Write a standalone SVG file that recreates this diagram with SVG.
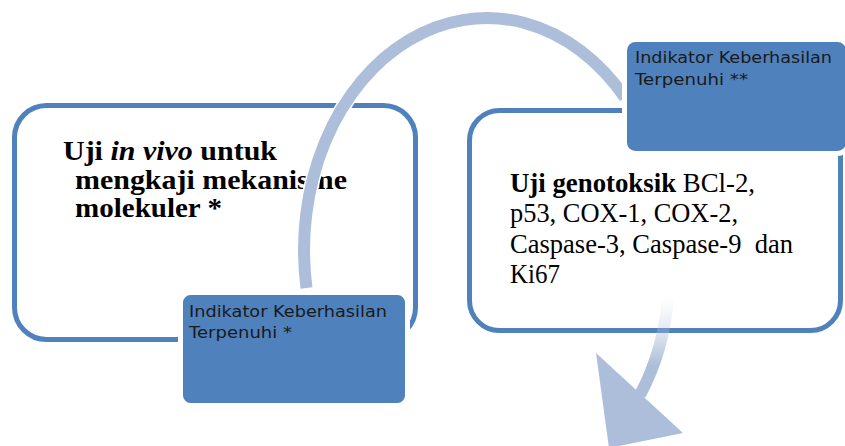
<svg xmlns="http://www.w3.org/2000/svg" width="845" height="446" viewBox="0 0 845 446">
<style>
.big{fill:#fff;stroke:#4f81bd;stroke-width:5}
.small{fill:#4f81bd;stroke:#fff;stroke-width:5}
.serif{font-family:"Liberation Serif","Times New Roman",serif;font-size:28px;fill:#000}
.serifr{font-family:"Liberation Serif","Times New Roman",serif;font-size:27px;fill:#000}
.sans{font-family:"DejaVu Sans","Open Sans",sans-serif;font-size:15px;fill:#1a1a1a}
.arc{fill:none;stroke:#adbedb;stroke-width:12;stroke-linecap:butt}
</style>
<defs>
<linearGradient id="fade" gradientUnits="userSpaceOnUse" x1="0" y1="298" x2="0" y2="365">
<stop offset="0" stop-color="#adbedb" stop-opacity="0"/>
<stop offset="0.45" stop-color="#adbedb" stop-opacity="0.3"/>
<stop offset="1" stop-color="#adbedb" stop-opacity="1"/>
</linearGradient>
</defs>
<rect width="845" height="446" fill="#fff"/>
<g id="node-left">
<rect class="big" x="14.5" y="105.5" width="401" height="234" rx="32"/>
<text class="serif" x="63" y="160" font-weight="bold" textLength="214" lengthAdjust="spacingAndGlyphs">Uji <tspan font-style="italic">in vivo</tspan> untuk</text>
<text class="serif" x="75" y="189" font-weight="bold" textLength="272" lengthAdjust="spacingAndGlyphs">mengkaji mekanisme</text>
<text class="serif" x="75" y="217" font-weight="bold" textLength="147" lengthAdjust="spacingAndGlyphs">molekuler *</text>
</g>
<g id="node-right">
<rect class="big" x="469.5" y="110.5" width="371" height="220" rx="30"/>
<text class="serifr" x="510" y="192" textLength="245" lengthAdjust="spacingAndGlyphs"><tspan font-weight="bold">Uji genotoksik</tspan> BCl-2,</text>
<text class="serifr" x="510" y="222" textLength="228" lengthAdjust="spacingAndGlyphs">p53, COX-1, COX-2,</text>
<text class="serifr" x="510" y="253" textLength="283" lengthAdjust="spacingAndGlyphs" xml:space="preserve">Caspase-3, Caspase-9  dan</text>
<text class="serifr" x="510" y="283" textLength="50" lengthAdjust="spacingAndGlyphs">Ki67</text>
</g>
<g id="connectors">
<path d="M 306.5 288 A 183 232 0 0 1 625 97.6" fill="none" stroke="#fff" stroke-width="15"/>
<path class="arc" d="M 306.5 288 A 183 232 0 0 1 625 97.6"/>
<path d="M 668 297 Q 664 350 640 395" fill="none" stroke="url(#fade)" stroke-width="12"/>
<polygon points="596,353 683,433 609,448" fill="#adbedb"/>
</g>
<g id="node-indicator1">
<rect class="small" x="180.5" y="292.5" width="227" height="113" rx="10"/>
<text class="sans" x="189" y="317" textLength="198" lengthAdjust="spacingAndGlyphs">Indikator Keberhasilan</text>
<text class="sans" x="189" y="338" textLength="103" lengthAdjust="spacingAndGlyphs">Terpenuhi *</text>
</g>
<g id="node-indicator2">
<rect class="small" x="624.5" y="39.5" width="224" height="114" rx="11"/>
<text class="sans" x="635" y="63" textLength="197" lengthAdjust="spacingAndGlyphs">Indikator Keberhasilan</text>
<text class="sans" x="635" y="85" textLength="113" lengthAdjust="spacingAndGlyphs">Terpenuhi **</text>
</g>
</svg>
